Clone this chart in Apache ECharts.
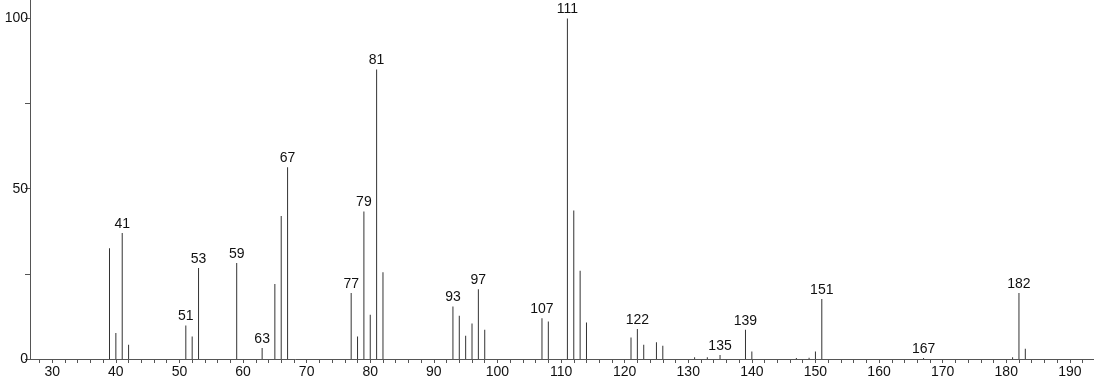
<!DOCTYPE html>
<html>
<head>
<meta charset="utf-8">
<script src="https://cdn.jsdelivr.net/npm/echarts@6/dist/echarts.min.js"></script>
<style>
html,body{margin:0;padding:0;background:#fff;}
#chart{width:1094px;height:384px;}
</style>
</head>
<body>
<div id="chart"></div>
<script>
// m/z values and relative intensities
const mz = [39,40,41,42,51,52,53,59,63,65,66,67,77,78,79,80,81,82,93,94,95,96,97,98,107,108,111,112,113,114,121,122,123,125,126,131,133,135,139,140,147,149,150,151,167,181,182,183];
const intensity = [32.5,7.6,37,4.2,9.8,6.6,26.7,28.2,3.2,22,42,56.3,19.4,6.6,43.3,13.0,85.0,25.5,15.4,12.7,6.8,10.4,20.5,8.6,12.0,11.0,100,43.6,25.9,10.7,6.3,8.8,4.2,4.9,3.9,0.5,0.5,1.2,8.6,2.2,0.3,0.4,2.2,17.6,0.3,0.5,19.4,3.0];
const labeledPeaks = [41,51,53,59,63,67,77,79,81,93,97,107,111,122,135,139,151,167,182];
const xLabelValues = [30,40,50,60,70,80,90,100,110,120,130,140,150,160,170,180,190];
const xTickValues = [28,30,32,34,36,38,40,42,44,46,48,50,52,54,56,58,60,62,64,66,68,70,72,74,76,78,80,82,84,86,88,90,92,94,96,98,100,102,104,106,108,110,112,114,116,118,120,122,124,126,128,130,132,134,136,138,140,142,144,146,148,150,152,154,156,158,160,162,164,166,168,170,172,174,176,178,180,182,184,186,188,190,192];
const yLabelValues = [0,50,100];
const yTickValues = [0,25,50,75,100];

const data = mz.map((m, i) => {
  const item = { value: [m, intensity[i]] };
  if (labeledPeaks.includes(m)) item.label = { show: true };
  return item;
});

const axisColor = '#555';
const chart = echarts.init(document.getElementById('chart'), null, { renderer: 'canvas' });
chart.setOption({
  animation: false,
  grid: { left: 30, right: 0, top: 0, bottom: 25, containLabel: false },
  xAxis: {
    type: 'value',
    min: 26.5,
    max: 193.8,
    axisLine: { show: true, lineStyle: { color: axisColor, width: 1 } },
    axisTick: { show: true, length: 4, lineStyle: { color: axisColor }, customValues: xTickValues },
    axisLabel: { color: '#111', fontSize: 14, fontFamily: 'Liberation Sans', margin: 6, customValues: xLabelValues },
    splitLine: { show: false }
  },
  yAxis: {
    type: 'value',
    min: 0,
    max: 105.4,
    axisLine: { show: true, lineStyle: { color: axisColor, width: 1 } },
    axisTick: { show: true, length: 5, lineStyle: { color: axisColor }, customValues: yTickValues },
    axisLabel: { color: '#111', fontSize: 14, fontFamily: 'Liberation Sans', margin: 2, customValues: yLabelValues },
    splitLine: { show: false }
  },
  series: [{
    type: 'bar',
    barWidth: 1,
    data: data,
    itemStyle: { color: '#333' },
    label: {
      show: false,
      position: 'top',
      distance: 2,
      color: '#111',
      fontSize: 14,
      fontFamily: 'Liberation Sans',
      formatter: p => String(p.value[0])
    }
  }]
});
</script>
</body>
</html>
